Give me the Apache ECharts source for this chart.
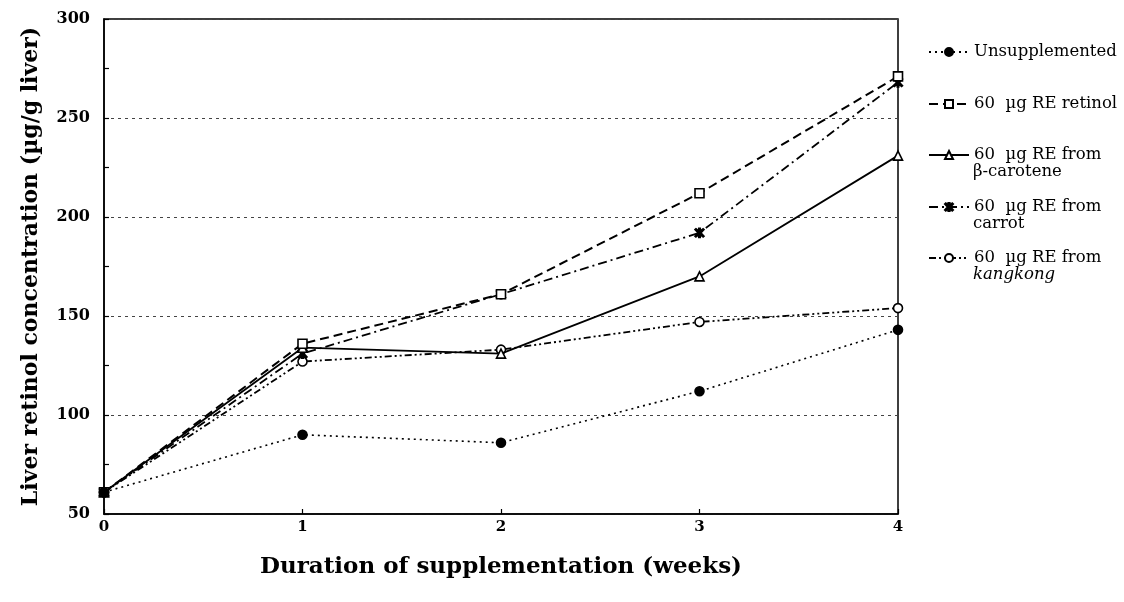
<!DOCTYPE html>
<html>
<head>
<meta charset="utf-8">
<script src="https://cdn.jsdelivr.net/npm/echarts@6/dist/echarts.min.js"></script>
<style>
html,body{margin:0;padding:0;background:#fff;}
#chart{width:1124px;height:602px;}
</style>
</head>
<body>
<div id="chart"></div>
<script>
var weeks = [0, 1, 2, 3, 4];
var unsupplemented = [61, 90, 86, 112, 143];
var retinol = [61, 136, 161, 212, 271];
var betaCarotene = [61, 134, 131, 170, 231];
var carrot = [61, 131, 161, 192, 268];
var kangkong = [61, 127, 133, 147, 154];
var seriesNames = ['Unsupplemented', '60  µg RE retinol', '60  µg RE from β-carotene', '60  µg RE from carrot', '60  µg RE from kangkong'];
var legendFirstLines = ['Unsupplemented', '60  µg RE retinol', '60  µg RE from', '60  µg RE from', '60  µg RE from'];
var legendSecondLines = ['', '', 'β-carotene', 'carrot', 'kangkong'];
var yTicks = [50, 100, 150, 200, 250, 300];

function pts(vals) { return weeks.map(function (w, i) { return [w, vals[i]]; }); }

var FONT = 'DejaVu Serif';
var star = 'path://M-4,-5 L0,-1.5 L4,-5 L5,-4 L1.5,0 L5,4 L4,5 L0,1.5 L-4,5 L-5,4 L-1.5,0 L-5,-4 Z M-0.8,-5.5 L0.8,-5.5 L0.8,5.5 L-0.8,5.5 Z';

var styles = [
  {symbol: 'circle', size: 9, fill: '#000', type: [2, 4], width: 1.6},
  {symbol: 'rect', size: 9, fill: '#fff', type: [9, 5], width: 2},
  {symbol: 'triangle', size: 9, fill: '#fff', type: 'solid', width: 1.8},
  {symbol: star, size: 9, fill: '#000', type: [9, 4, 2, 4], width: 1.8},
  {symbol: 'circle', size: 9, fill: '#fff', type: [7, 3, 2, 3, 2, 3], width: 1.8}
];
var datasets = [unsupplemented, retinol, betaCarotene, carrot, kangkong];

var series = datasets.map(function (d, i) {
  var s = styles[i];
  return {
    name: seriesNames[i],
    type: 'line',
    data: pts(d),
    symbol: s.symbol,
    symbolSize: s.size,
    showAllSymbol: true,
    lineStyle: {color: '#000', width: s.width, type: s.type},
    itemStyle: {color: s.fill, borderColor: '#000', borderWidth: 1.6},
    z: 10 - i
  };
});

var legendCenters = [52, 104, 155, 207, 258];
var legends = seriesNames.map(function (n, i) {
  return {
    data: [n],
    orient: 'vertical',
    left: 928,
    top: legendCenters[i] - 10,
    padding: 0,
    itemWidth: 40,
    itemHeight: 10,
    selectedMode: false,
    formatter: function () { return legendFirstLines[i]; },
    textStyle: {fontFamily: FONT, fontSize: 16.5, color: '#000', lineHeight: 20}
  };
});

var graphics = [];
legendSecondLines.forEach(function (t, i) {
  if (!t) return;
  graphics.push({
    type: 'text',
    left: 973,
    top: legendCenters[i] + 8,
    style: {text: t, font: (i === 4 ? 'italic ' : '') + '16.5px "DejaVu Serif"', fill: '#000'}
  });
});

var chart = echarts.init(document.getElementById('chart'));
chart.setOption({
  backgroundColor: '#fff',
  animation: false,
  grid: {left: 104, top: 19, right: 226, bottom: 88, show: true, borderColor: '#000', borderWidth: 1.5, backgroundColor: 'transparent'},
  legend: legends,
  graphic: graphics,
  xAxis: {
    type: 'value', min: 0, max: 4, interval: 1,
    name: 'Duration of supplementation (weeks)',
    nameLocation: 'middle', nameGap: 42,
    nameTextStyle: {fontFamily: FONT, fontSize: 23, fontWeight: 'bold', color: '#000'},
    axisLine: {show: true, lineStyle: {color: '#000', width: 1.5}},
    axisTick: {show: true, inside: true, length: 5, lineStyle: {color: '#000', width: 1.2}},
    axisLabel: {fontFamily: FONT, fontSize: 15, fontWeight: 'bold', color: '#000', margin: 6},
    splitLine: {show: false}
  },
  yAxis: {
    type: 'value', min: 50, max: 300, interval: 50,
    name: 'Liver retinol concentration (µg/g liver)',
    nameLocation: 'middle', nameGap: 62,
    nameTextStyle: {fontFamily: FONT, fontSize: 22, fontWeight: 'bold', color: '#000'},
    axisLine: {show: true, lineStyle: {color: '#000', width: 1.5}},
    axisTick: {show: true, inside: true, length: 5, lineStyle: {color: '#000', width: 1.2}},
    minorTick: {show: true, splitNumber: 2, length: 5, lineStyle: {color: '#000', width: 1.2}},
    axisLabel: {fontFamily: FONT, fontSize: 16, fontWeight: 'bold', color: '#000', margin: 14,
      formatter: function (v) { return yTicks.indexOf(v) >= 0 ? String(v) : ''; }},
    splitLine: {show: true, lineStyle: {color: '#444', width: 1, type: [3, 4]}}
  },
  series: series
});
</script>
</body>
</html>
